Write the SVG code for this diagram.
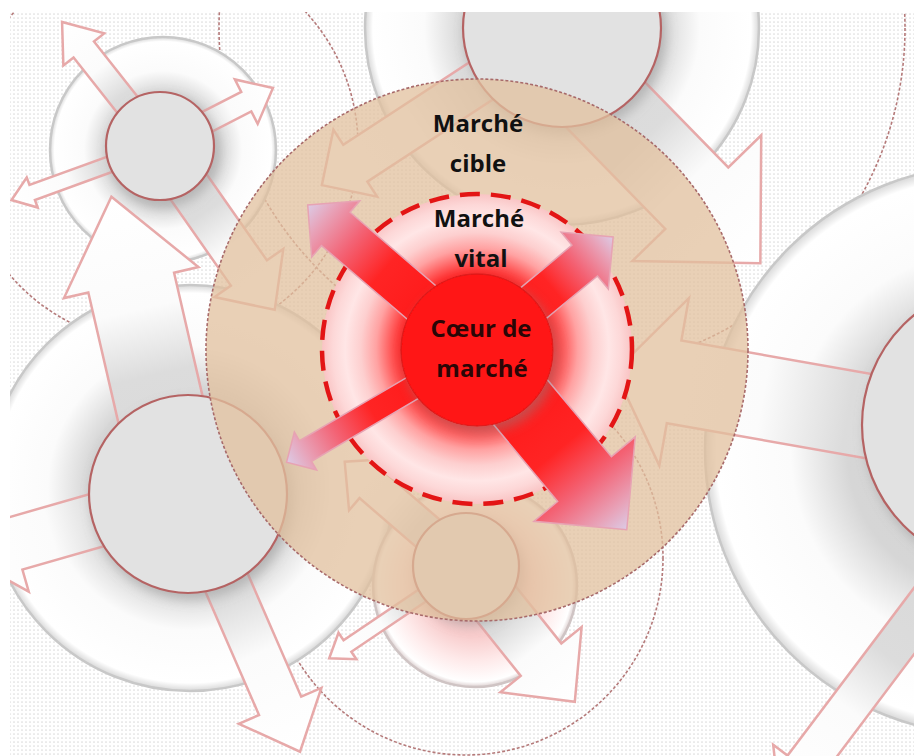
<svg xmlns="http://www.w3.org/2000/svg" width="914" height="756" viewBox="0 0 914 756">
<defs>
  <clipPath id="frame"><rect x="10" y="12" width="904" height="744"/></clipPath>
  <pattern id="dots" width="4" height="4" patternUnits="userSpaceOnUse">
    <rect width="4" height="4" fill="#ffffff"/>
    <circle cx="2" cy="2" r="0.85" fill="#dcdcdc"/>
  </pattern>
  <radialGradient id="gWhite" cx="0.5" cy="0.5" r="0.5">
    <stop offset="0" stop-color="#d3d3d3"/>
    <stop offset="0.5" stop-color="#d6d6d6"/>
    <stop offset="0.7" stop-color="#fbfbfb"/>
    <stop offset="0.96" stop-color="#ffffff"/>
    <stop offset="1" stop-color="#d8d8d8"/>
  </radialGradient>
  <radialGradient id="gPink" cx="0.5" cy="0.5" r="0.5">
    <stop offset="0" stop-color="#f6c6c6"/>
    <stop offset="0.5" stop-color="#f8cccc"/>
    <stop offset="0.75" stop-color="#feeaea"/>
    <stop offset="0.95" stop-color="#ffffff"/>
    <stop offset="1" stop-color="#dccfcf"/>
  </radialGradient>
  <radialGradient id="gVital" cx="0.5" cy="0.5" r="0.5">
    <stop offset="0" stop-color="#ff1a1a"/>
    <stop offset="0.48" stop-color="#ff2020"/>
    <stop offset="0.56" stop-color="#ff5c5c"/>
    <stop offset="0.65" stop-color="#ffa2a2"/>
    <stop offset="0.75" stop-color="#fdcfcf"/>
    <stop offset="0.85" stop-color="#ffe6e6"/>
    <stop offset="0.93" stop-color="#fdd8d8"/>
    <stop offset="1" stop-color="#f9c4c4"/>
  </radialGradient>
  <linearGradient id="gRed" x1="0" y1="0" x2="1" y2="0">
    <stop offset="0" stop-color="#ff0f0f"/>
    <stop offset="0.55" stop-color="#ff2424"/>
    <stop offset="0.74" stop-color="#f36375"/>
    <stop offset="0.9" stop-color="#e8a2b8"/>
    <stop offset="1" stop-color="#dccbe6"/>
  </linearGradient>
  <linearGradient id="gArrow" x1="0" y1="0" x2="1" y2="0">
    <stop offset="0" stop-color="#d8d8d8"/>
    <stop offset="0.4" stop-color="#dcdcdc"/>
    <stop offset="0.62" stop-color="#fbfbfb"/>
    <stop offset="1" stop-color="#ffffff"/>
  </linearGradient>
  <filter id="shadow" x="-30%" y="-30%" width="160%" height="160%">
    <feDropShadow dx="4" dy="6" stdDeviation="6" flood-color="#888888" flood-opacity="0.45"/>
  </filter>
</defs>
<style>
  .ring{fill:none;stroke:#b57a7a;stroke-width:1.6;stroke-dasharray:3 2}
  .disc{fill:url(#gWhite);stroke:#c8c8c8;stroke-width:2.5}
  .warrow{fill:url(#gArrow);stroke:#e7a9a9;stroke-width:2.5}
  .sat{fill:#e2e2e2;stroke:#b56464;stroke-width:2.2;filter:url(#shadow)}
  .rarrow{fill:url(#gRed);stroke:#e7a3b3;stroke-width:1.5}
  .t1{font-family:"Open Sans","Liberation Sans",sans-serif;font-weight:700;font-size:24px;fill:#111111;text-anchor:middle}
  .t2{font-family:"Open Sans","Liberation Sans",sans-serif;font-weight:700;font-size:24px;fill:#2a0606;text-anchor:middle}
</style>

<rect width="914" height="756" fill="#ffffff"/>
<g clip-path="url(#frame)">
<rect x="10" y="12" width="904" height="744" fill="url(#dots)"/>

<!-- outer rings of satellite markets -->
<g id="rings">
  <circle class="ring" cx="160" cy="146" r="198"/>
  <circle class="ring" cx="562" cy="28" r="343"/>
  <circle class="ring" cx="466" cy="558" r="197"/>
</g>

<!-- white discs -->
<g id="discs">
  <circle class="disc" cx="990" cy="450" r="285"/>
  <circle class="disc" cx="562" cy="28" r="197"/>
  <circle class="disc" cx="190" cy="488" r="203"/>
  <circle class="disc" cx="163" cy="150" r="113"/>
  <circle cx="475" cy="585" r="102" fill="url(#gPink)" stroke="#cfc4c4" stroke-width="2.5"/>
</g>

<!-- connectors -->
<g id="connectors">
  <path class="warrow" d="M0,-13 H123 V-26 L158,0 L123,26 V13 H0 Z" transform="translate(160,146) rotate(-128.3)"/>
  <path class="warrow" d="M0,-11 H97 V-25 L127,0 L97,25 V11 H0 Z" transform="translate(160,146) rotate(-27.2)"/>
  <path class="warrow" d="M0,-8 H136 V-16 L158,0 L136,16 V8 H0 Z" transform="translate(160,146) rotate(160)"/>
  <path class="warrow" d="M0,-22 H155 V-42 L200,0 L155,42 V22 H0 Z" transform="translate(160,146) rotate(55)"/>

  <path class="warrow" d="M0,-44 H193 V-90 L284,0 L193,90 V44 H0 Z" transform="translate(562,60) rotate(45.7)"/>
  <path class="warrow" d="M0,-22 H247 V-40 L287,0 L247,40 V22 H0 Z" transform="translate(562,28) rotate(146.8)"/>

  <path class="warrow" d="M0,-44 H217 V-69 L305,0 L217,69 V44 H0 Z" transform="translate(180,494) rotate(-103)"/>
  <path class="warrow" d="M0,-23 H231 V-45 L281,0 L231,45 V23 H0 Z" transform="translate(188,494) rotate(66.5)"/>
  <path class="warrow" d="M0,-27 H180 V-50 L230,0 L180,50 V27 H0 Z" transform="translate(188,494) rotate(164)"/>

  <path class="warrow" d="M0,-42 H335 V-85 L395,0 L335,85 V42 H0 Z" transform="translate(1004,440) rotate(190)"/>
  <path class="warrow" d="M0,-20 H260 V-38 L300,0 L260,38 V20 H0 Z" transform="translate(960,560) rotate(127)"/>

  <path class="warrow" d="M0,-18 H125 V-34 L160,0 L125,34 V18 H0 Z" transform="translate(466,566) rotate(-139.3)"/>
  <path class="warrow" d="M0,-7 H143 V-16 L165,0 L143,16 V7 H0 Z" transform="translate(466,566) rotate(146)"/>
  <path class="warrow" d="M0,-26 H120 V-52 L174,0 L120,52 V26 H0 Z" transform="translate(466,566) rotate(51.3)"/>
</g>

<!-- satellite markets -->
<g id="node-s1"><circle class="sat" cx="160" cy="146" r="54"/></g>
<g id="node-s2"><circle class="sat" cx="562" cy="28" r="99"/></g>
<g id="node-s3"><circle class="sat" cx="188" cy="494" r="99"/></g>
<g id="node-s4"><circle class="sat" cx="1004" cy="425" r="142"/></g>
<g id="node-s5"><circle class="sat" cx="466" cy="566" r="53"/></g>

<!-- target market -->
<g id="node-cible">
  <circle cx="477" cy="350" r="271" fill="#e2c09e" fill-opacity="0.75" stroke="#a86a6a" stroke-width="1.6" stroke-dasharray="3 2"/>
  <text class="t1" x="478" y="132">Marché</text>
  <text class="t1" x="478" y="172">cible</text>
</g>

<!-- vital market -->
<g id="node-vital">
  <circle cx="477" cy="349" r="155" fill="url(#gVital)" stroke="#e31515" stroke-width="4.5" stroke-dasharray="20 11"/>
</g>

<g id="core-arrows">
  <path class="rarrow" d="M0,-22 H186 V-37 L223,0 L186,37 V22 H0 Z" transform="translate(477,350) rotate(-139.4)"/>
  <path class="rarrow" d="M0,-20 H140 V-37 L177,0 L140,37 V20 H0 Z" transform="translate(477,350) rotate(-39.7)"/>
  <path class="rarrow" d="M0,-12 H199 V-22 L221,0 L199,22 V12 H0 Z" transform="translate(477,350) rotate(149.5)"/>
  <path class="rarrow" d="M0,-35 H168 V-66 L234,0 L168,66 V35 H0 Z" transform="translate(477,350) rotate(50.2)"/>
</g>

<g id="vital-label">
  <text class="t1" x="479" y="227">Marché</text>
  <text class="t1" x="481" y="267">vital</text>
</g>

<!-- core market -->
<g id="node-core">
  <circle cx="477" cy="350" r="76" fill="#ff1212" stroke="#e01a1a" stroke-width="1.5" filter="url(#shadow)"/>
  <text class="t2" x="481" y="337">Cœur de</text>
  <text class="t2" x="482" y="377">marché</text>
</g>
</g>
</svg>
